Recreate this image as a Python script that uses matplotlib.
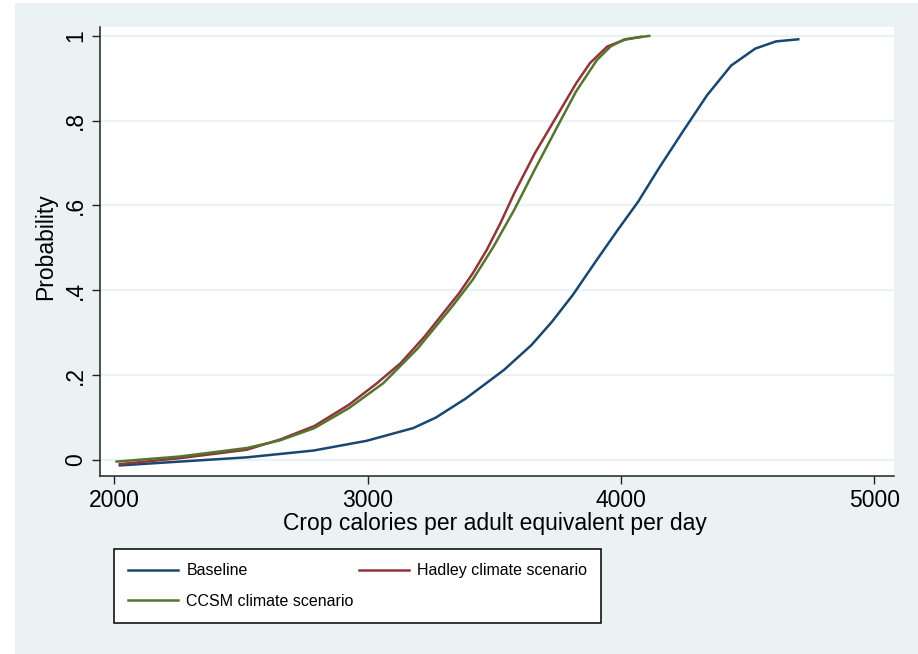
import matplotlib
matplotlib.use("Agg")
from matplotlib import pyplot as plt
from matplotlib.patches import Rectangle

# cumulative distribution of crop calories per adult equivalent per day
baseline_kcal = [2022, 2259, 2523, 2786, 2996, 3180, 3270, 3388, 3538, 3647, 3728,
                 3810, 3905, 3987, 4068, 4150, 4245, 4340, 4435, 4530, 4612, 4700]
baseline_prob = [-0.013, -0.004, 0.006, 0.022, 0.045, 0.075, 0.100, 0.145, 0.212, 0.271, 0.326,
                 0.389, 0.472, 0.542, 0.609, 0.688, 0.775, 0.860, 0.930, 0.970, 0.987, 0.992]

hadley_kcal = [2022, 2259, 2523, 2654, 2790, 2926, 3035, 3130, 3225, 3293, 3361,
               3415, 3470, 3524, 3579, 3660, 3742, 3823, 3878, 3946, 4015, 4080]
hadley_prob = [-0.010, 0.004, 0.024, 0.048, 0.080, 0.130, 0.180, 0.228, 0.291, 0.342, 0.393,
               0.440, 0.495, 0.558, 0.629, 0.723, 0.806, 0.888, 0.936, 0.975, 0.991, 0.998]

ccsm_kcal = [2009, 2259, 2523, 2654, 2790, 2926, 3062, 3198, 3334, 3415, 3497,
             3579, 3660, 3742, 3823, 3905, 3959, 4014, 4112]
ccsm_prob = [-0.004, 0.008, 0.028, 0.046, 0.075, 0.122, 0.181, 0.263, 0.362, 0.425, 0.503,
             0.590, 0.685, 0.778, 0.869, 0.943, 0.975, 0.992, 1.0]

x_ticks = [2000, 3000, 4000, 5000]
y_ticks = [0, 0.2, 0.4, 0.6, 0.8, 1.0]
y_tick_labels = ['0', '.2', '.4', '.6', '.8', '1']

bg = '#eaf2f3'
navy = '#1a476f'
maroon = '#90353b'
green = '#55752f'

plt.rcParams['font.family'] = ['Liberation Sans', 'DejaVu Sans']

W, H = 918, 654
fig = plt.figure(figsize=(W / 100, H / 100), dpi=100)
fig.patch.set_facecolor('white')
fig.add_artist(Rectangle((15 / W, 0), 1, (H - 3) / H, transform=fig.transFigure,
                         facecolor=bg, edgecolor='none', zorder=-10))

ax = fig.add_axes([100 / W, 1 - 476 / H, 794 / W, 449 / H])
ax.set_facecolor('white')

l1, = ax.plot(baseline_kcal, baseline_prob, color=navy, lw=1.8, label='Baseline')
l2, = ax.plot(hadley_kcal, hadley_prob, color=maroon, lw=1.8, label='Hadley climate scenario')
l3, = ax.plot(ccsm_kcal, ccsm_prob, color=green, lw=1.8, label='CCSM climate scenario')

ax.set_xlim(1943.5, 5078)
ax.set_ylim(-0.038, 1.021)
ax.set_xticks(x_ticks)
ax.set_yticks(y_ticks)
ax.set_yticklabels(y_tick_labels, rotation=90, va='center')
ax.grid(axis='y', color=bg, lw=1.6)
ax.set_axisbelow(True)

for side in ['top', 'right']:
    ax.spines[side].set_visible(False)
for side in ['left', 'bottom']:
    ax.spines[side].set_linewidth(1.1)
    ax.spines[side].set_color('#222222')

ax.tick_params(axis='both', direction='out', length=5.8, width=1.0, color='#222222',
               labelsize=16.5)
ax.tick_params(axis='x', pad=3.6)
ax.tick_params(axis='y', pad=3.6)

ax.set_xlabel('Crop calories per adult equivalent per day', fontsize=16.5)
ax.xaxis.set_label_coords(0.4975, -0.08)
ax.set_ylabel('Probability', fontsize=16.5)
ax.yaxis.set_label_coords(-0.054, 0.51)

# legend: two columns, filled row by row
leg = fig.legend([l1, l3, l2],
                 ['Baseline', 'CCSM climate scenario', 'Hadley climate scenario'],
                 ncol=2, loc='upper left', mode='expand',
                 bbox_to_anchor=(114 / W, 1 - 623 / H, 487 / W, 74 / H),
                 bbox_transform=fig.transFigure, borderaxespad=0,
                 fontsize=11.5, handlelength=3.13, handletextpad=0.5, labelspacing=0.98,
                 borderpad=0.9, fancybox=False, framealpha=1, facecolor='white',
                 edgecolor='black')
leg.get_frame().set_linewidth(1.1)

fig.savefig('out.png', dpi=100, facecolor=fig.get_facecolor())
